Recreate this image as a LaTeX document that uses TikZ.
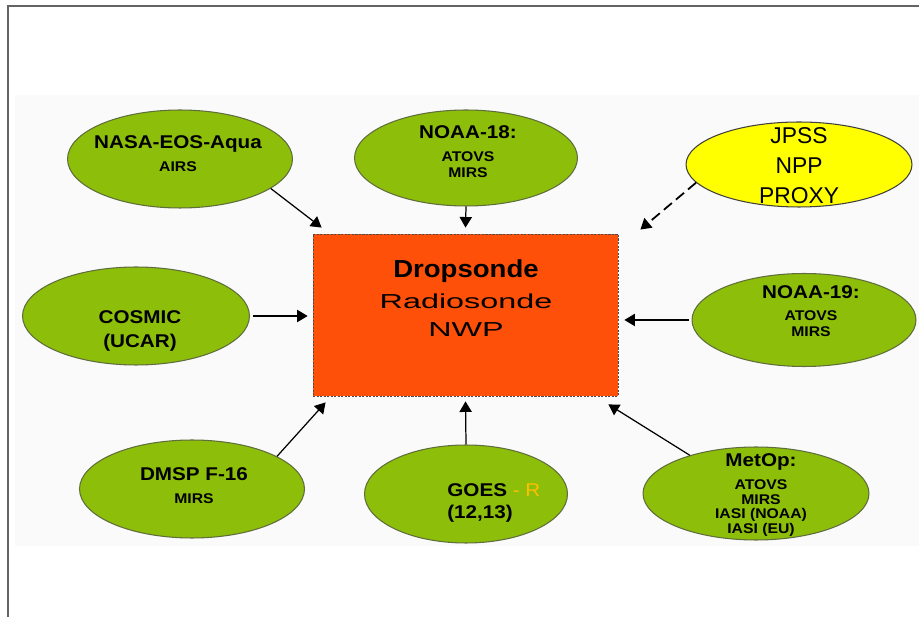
\documentclass[tikz,border=0pt]{standalone}
\usepackage{fontspec}
\setmainfont{Liberation Sans}
\newfontfamily\satfont[FakeStretch=1.12]{Liberation Sans}
\newfontfamily\widefont[FakeStretch=1.6]{Liberation Sans}
\usetikzlibrary{shapes.geometric, arrows.meta}
\definecolor{satgreen}{RGB}{140, 190, 10}
\definecolor{satedge}{RGB}{95, 110, 60}
\definecolor{proxyyellow}{RGB}{255, 255, 0}
\definecolor{hubred}{RGB}{255, 80, 10}
\definecolor{goesgold}{RGB}{255, 190, 0}
\definecolor{framegray}{RGB}{100, 100, 100}
\newcommand{\hd}[1]{{\fontsize{10.5}{13}\selectfont #1}}

\tikzset{
  sat/.style={ellipse, draw=satedge, fill=satgreen, line width=0.6pt,
    inner sep=0pt, minimum width=4.5cm, minimum height=1.96cm},
  satlabel/.style={align=center, inner sep=0pt, anchor=north,
    font=\satfont\bfseries\fontsize{8}{9}\selectfont},
  feed/.style={-{Triangle[length=6pt, width=7pt]}, line width=0.7pt},
}

\begin{document}
\begin{tikzpicture}[x=0.02cm, y=-0.02cm]
    \useasboundingbox (0,0) rectangle (919,617);
    \fill[black!2] (15,95) rectangle (919,546);
    \draw[framegray, line width=1.1pt] (8,617) -- (8,6) -- (919,6);

    %% central box
    \node[draw=black!70, dash pattern=on 1.2pt off 0.8pt, line width=0.5pt,
          fill=hubred, inner sep=0pt, minimum width=6.1cm,
          minimum height=3.24cm] (hub) at (465.5,315) {};
    \node[align=center, inner sep=0pt, anchor=north,
          font=\widefont\fontsize{11.5}{16}\selectfont] (hubtext) at (466,259)
      {{\satfont\bfseries\fontsize{14}{16}\selectfont Dropsonde}\\[2pt]Radiosonde\\NWP};

    %% top row
    \node[sat] (aqua) at (180,159) {};
    \node[satlabel] (aqualabel) at (178,135) {\hd{NASA-EOS-Aqua}\\[4pt]AIRS};

    \node[sat, minimum width=4.46cm, minimum height=1.92cm] (noaaA) at (466,158) {};
    \node[satlabel] (noaaAlabel) at (468,125) {\hd{NOAA-18:}\\[4pt]ATOVS\\[0.6pt]MIRS};

    \node[ellipse, draw=black!75, fill=proxyyellow, line width=0.6pt, inner sep=0pt,
          minimum width=4.52cm, minimum height=1.7cm] (jpss) at (799,164.5) {};
    \node[align=center, inner sep=0pt, anchor=north,
          font=\fontsize{13}{17}\selectfont] (jpsslabel) at (799,127) {JPSS\\NPP\\PROXY};

    %% middle row
    \node[sat, minimum width=4.54cm] (cosmic) at (136,316) {};
    \node[satlabel] (cosmiclabel) at (140,310) {\hd{COSMIC}\\[5pt]\hd{(UCAR)}};

    \node[sat, minimum width=4.48cm, minimum height=1.86cm] (noaaB) at (804,320) {};
    \node[satlabel] (noaaBlabel) at (811,285) {\hd{NOAA-19:}\\[3.5pt]ATOVS\\MIRS};

    %% bottom row
    \node[sat] (dmsp) at (192,489) {};
    \node[satlabel] (dmsplabel) at (194,467) {\hd{DMSP F-16}\\[4pt]MIRS};

    \node[sat, minimum width=4.06cm] (goes) at (466,494) {};
    \node[satlabel, align=left, anchor=north west] (goeslabel) at (447,483)
      {\hd{GOES \textcolor{goesgold}{\mdseries - R}}\\[3.5pt]\hd{(12,13)}};

    \node[sat, minimum width=4.52cm, minimum height=1.86cm] (metop) at (756,493.5) {};
    \node[satlabel] (metoplabel) at (761,453)
      {\hd{MetOp:}\\[4pt]ATOVS\\[-0.5pt]MIRS\\[-0.5pt]IASI (NOAA)\\[-0.5pt]IASI (EU)};

    %% feeds into the box
    \draw[feed] (aqua.-18) -- ([shift={(9,-6)}]hub.north west);
    \draw[feed] (noaaA.south) -- ([shift={(0,-6)}]hub.north);
    \draw[feed, line width=1pt, dash pattern=on 6pt off 3pt]
      (jpss.190) -- ([shift={(22,-4)}]hub.north east);
    \draw[feed, shorten >=2.8pt, shorten <=1.5pt] (cosmic.east) -- (cosmic.east -| hub.west);
    \draw[feed, shorten >=3.4pt, shorten <=1.5pt] (noaaB.west) -- (noaaB.west -| hub.east);
    \draw[feed] (dmsp.21) -- ([shift={(13,6)}]hub.south west);
    \draw[feed] (goes.north) -- ([shift={(0,5)}]hub.south);
    \draw[feed] (metop.150) -- ([shift={(-10,8)}]hub.south east);
\end{tikzpicture}
\end{document}
